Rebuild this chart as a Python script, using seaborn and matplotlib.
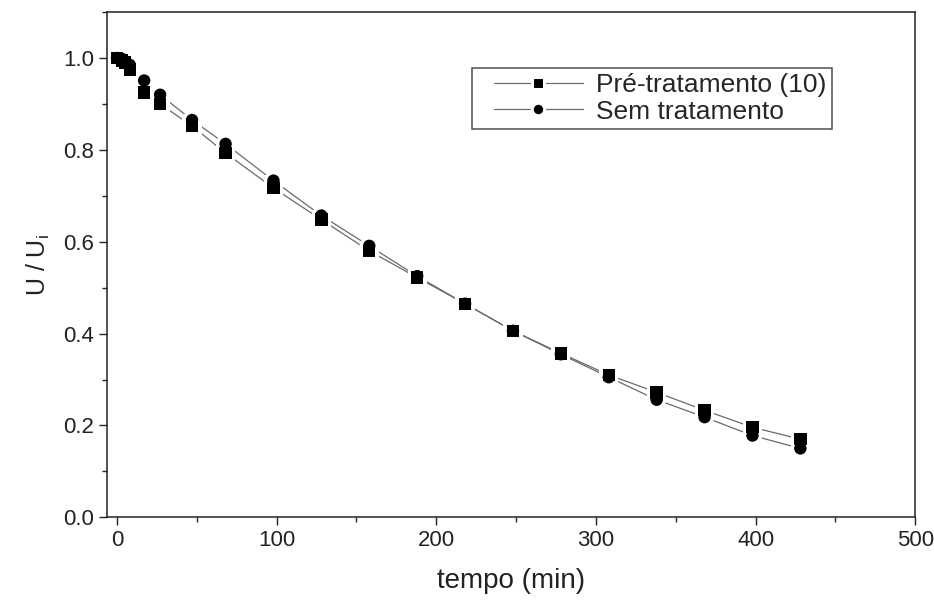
import matplotlib
matplotlib.use("Agg")
import matplotlib.pyplot as plt
from matplotlib.lines import Line2D
from matplotlib.legend_handler import HandlerLine2D
from matplotlib.ticker import MultipleLocator
import seaborn as sns
import pandas as pd

# Data
tempo = [0, 3, 5, 8, 17, 27, 47, 68, 98, 128, 158, 188, 218, 248, 278, 308, 338, 368, 398, 428]
pre_tratamento = [1.0, 0.995, 0.99, 0.975, 0.925, 0.90, 0.852, 0.793, 0.717, 0.648, 0.58, 0.522,
                  0.465, 0.406, 0.357, 0.31, 0.272, 0.233, 0.196, 0.17]
sem_tratamento = [1.0, 0.998, 0.993, 0.985, 0.951, 0.92, 0.865, 0.813, 0.733, 0.657, 0.591, 0.525,
                  0.465, 0.406, 0.355, 0.305, 0.256, 0.218, 0.178, 0.15]
series_names = ["Pré-tratamento (10)", "Sem tratamento"]

df = pd.concat([
    pd.DataFrame({"tempo": tempo, "U": pre_tratamento, "serie": series_names[0]}),
    pd.DataFrame({"tempo": tempo, "U": sem_tratamento, "serie": series_names[1]}),
])

sns.set_theme(style="ticks")
plt.rcParams["font.family"] = ["Liberation Sans", "DejaVu Sans"]

fig = plt.figure(figsize=(9.34, 6.05), dpi=100)
ax = fig.add_axes([0.115, 0.145, 0.865, 0.835])

marker_map = {series_names[0]: "s", series_names[1]: "o"}
sns.lineplot(data=df, x="tempo", y="U", hue="serie", palette=["#6a6a6a", "#6a6a6a"],
             linewidth=0.9, legend=False, ax=ax, sort=False, zorder=2)
# white halo behind markers -> small gaps in lines near markers
sns.scatterplot(data=df, x="tempo", y="U", style="serie", markers=marker_map,
                color="white", s=190, linewidth=0, legend=False, ax=ax, zorder=2.5)
sns.scatterplot(data=df, x="tempo", y="U", style="serie", markers=marker_map,
                color="black", s=80, edgecolor="black", linewidth=0, legend=False, ax=ax, zorder=3)

ax.set_xlim(-6, 500)
ax.set_ylim(0.0, 1.1)
ax.xaxis.set_major_locator(MultipleLocator(100))
ax.xaxis.set_minor_locator(MultipleLocator(50))
ax.yaxis.set_major_locator(MultipleLocator(0.2))
ax.yaxis.set_minor_locator(MultipleLocator(0.1))
ax.yaxis.set_major_formatter(matplotlib.ticker.FormatStrFormatter("%.1f"))
ax.tick_params(axis="both", which="major", direction="out", length=6, width=1, labelsize=16, colors="#222222")
ax.tick_params(axis="both", which="minor", direction="out", length=3.5, width=1)
for sp in ax.spines.values():
    sp.set_visible(True)
    sp.set_color("#222222")
    sp.set_linewidth(1.1)

ax.set_xlabel("tempo (min)", fontsize=20, labelpad=12, color="#222222")
ax.set_ylabel(r"U / U$_\mathregular{i}$", fontsize=18, labelpad=8, color="#222222")

handles = [
    Line2D([0], [0], color="#6a6a6a", lw=0.9, marker="s", markersize=9,
           markerfacecolor="black", markeredgecolor="white", markeredgewidth=2.2),
    Line2D([0], [0], color="#6a6a6a", lw=0.9, marker="o", markersize=9,
           markerfacecolor="black", markeredgecolor="white", markeredgewidth=2.2),
]
hmap = {h: HandlerLine2D(xpad=0.6) for h in handles}
leg = ax.legend(handles, series_names, loc="upper right", bbox_to_anchor=(0.897, 0.889),
                fontsize=19, frameon=True, fancybox=False, edgecolor="#222222",
                handlelength=4.0, borderpad=0.2, labelspacing=0.08, handletextpad=0.5,
                borderaxespad=0.0, handler_map=hmap)
leg.get_frame().set_linewidth(1.1)

fig.savefig("out.png", dpi=100)
